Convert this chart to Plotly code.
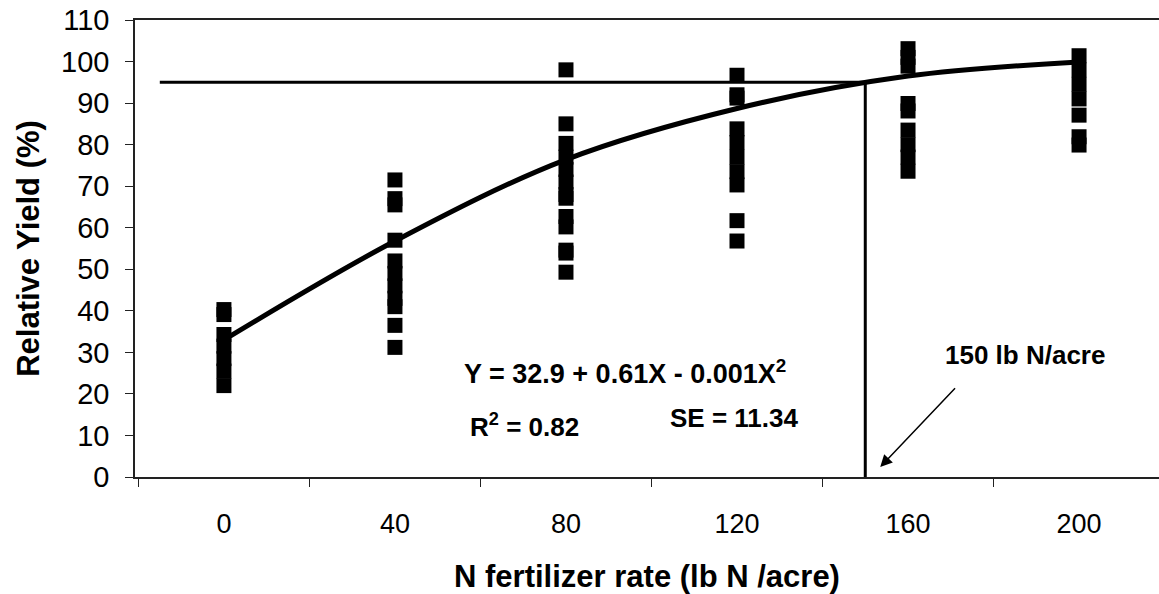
import plotly.graph_objects as go

# ---- data ----
rates = [0, 40, 80, 120, 160, 200]
yield_obs = {
    0:   [40.3, 39.1, 34.3, 31.5, 28.5, 25.5, 22.0],
    40:  [71.5, 67.0, 65.5, 57.0, 52.0, 49.0, 46.0, 43.0, 41.0, 36.5, 31.2],
    80:  [98.0, 85.0, 80.3, 77.0, 74.0, 71.0, 68.0, 67.1, 62.7, 60.2, 54.6, 53.9, 49.3],
    120: [96.7, 92.0, 91.2, 83.8, 80.5, 77.0, 73.5, 70.3, 61.7, 56.8],
    160: [103.1, 101.0, 98.9, 89.9, 88.1, 83.5, 80.0, 77.0, 73.6],
    200: [101.4, 98.0, 94.5, 91.0, 87.1, 81.9, 79.9],
}
fit_x = [0, 40, 80, 120, 160, 200]
fit_y = [33.0, 56.8, 76.4, 88.7, 96.5, 99.9]

crit_rate = 150
crit_yield = 95
hline_start = -15

x_ticks = [0, 40, 80, 120, 160, 200]
x_minor_ticks = [-20, 20, 60, 100, 140, 180, 220]
y_ticks = list(range(0, 111, 10))

FONT = "Liberation Sans, Arial, sans-serif"

xs, ys = [], []
for r in rates:
    for v in yield_obs[r]:
        xs.append(r)
        ys.append(v)

fig = go.Figure()
fig.add_trace(go.Scatter(
    x=xs, y=ys, mode="markers",
    marker=dict(symbol="square", size=15, color="black", line=dict(width=0)),
    showlegend=False, hoverinfo="skip"))
fig.add_trace(go.Scatter(
    x=fit_x, y=fit_y, mode="lines",
    line=dict(color="black", width=5, shape="spline", smoothing=1.0),
    showlegend=False, hoverinfo="skip"))
# 95% threshold line and critical rate line
fig.add_trace(go.Scatter(
    x=[hline_start, crit_rate, crit_rate], y=[crit_yield, crit_yield, 0],
    mode="lines", line=dict(color="black", width=3),
    showlegend=False, hoverinfo="skip"))

ann_font = dict(family=FONT, size=26, color="black")
fig.add_annotation(x=93.8, y=25.3, xref="x", yref="y", showarrow=False,
                   text="<b>Y = 32.9 + 0.61X - 0.001X<sup>2</sup></b>",
                   font=dict(family=FONT, size=27, color="black"))
fig.add_annotation(x=70.4, y=12.5, xref="x", yref="y", showarrow=False,
                   text="<b>R<sup>2</sup> = 0.82</b>", font=ann_font)
fig.add_annotation(x=119.3, y=14.2, xref="x", yref="y", showarrow=False,
                   text="<b>SE = 11.34</b>", font=ann_font)
fig.add_annotation(x=187.4, y=29.4, xref="x", yref="y", showarrow=False,
                   text="<b>150 lb N/acre</b>", font=ann_font)
fig.add_annotation(x=153.5, y=2.4, ax=171.7, ay=22.1, xref="x", yref="y",
                   axref="x", ayref="y", text=" ", showarrow=True,
                   arrowhead=2, arrowsize=1.6, arrowwidth=1.5, arrowcolor="black")

fig.update_layout(
    width=1159, height=594,
    margin=dict(l=135, r=0, t=20, b=117),
    paper_bgcolor="white", plot_bgcolor="white",
    font=dict(family=FONT, color="black"),
    xaxis=dict(
        range=[-20.8, 218.7], showgrid=False, zeroline=False,
        showline=True, linecolor="#222", linewidth=1.5, mirror=True,
        tickmode="array", tickvals=x_ticks, ticktext=[str(t) for t in x_ticks],
        ticks="", ticklabelstandoff=22,
        tickfont=dict(family=FONT, size=27, color="black"),
        minor=dict(tickmode="array", tickvals=x_minor_ticks, ticks="outside",
                   ticklen=8, tickwidth=1, tickcolor="#222", showgrid=False),
        title=dict(text="<b>N fertilizer rate (lb N /acre)</b>",
                   font=dict(family=FONT, size=31, color="black"), standoff=28),
    ),
    yaxis=dict(
        range=[0, 110], showgrid=False, zeroline=False,
        showline=True, linecolor="#222", linewidth=1.5, mirror=False,
        tickmode="array", tickvals=y_ticks,
        ticks="outside", ticklen=8, tickwidth=1, tickcolor="#222",
        ticklabelstandoff=10,
        tickfont=dict(family=FONT, size=29, color="black"),
        title=dict(text="<b>Relative Yield (%)</b>",
                   font=dict(family=FONT, size=31, color="black"), standoff=12),
    ),
)

fig.write_html("out.html")
